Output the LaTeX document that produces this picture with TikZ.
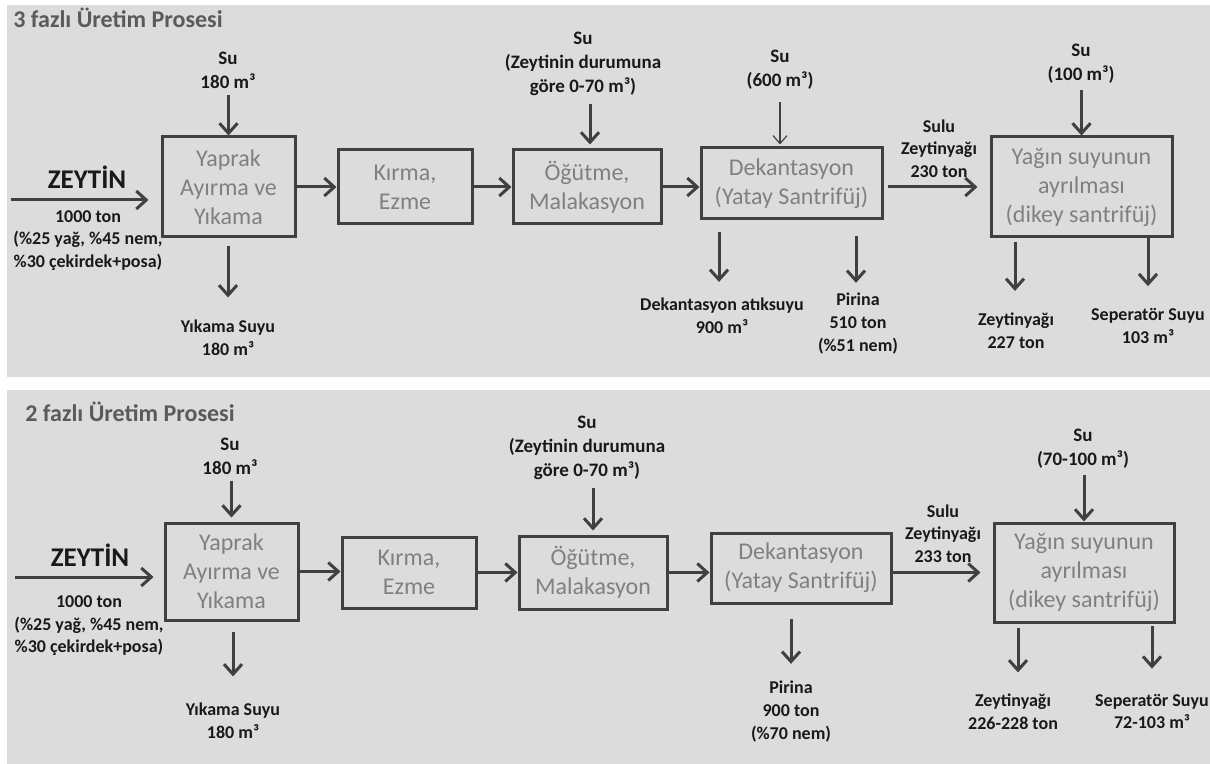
\documentclass[tikz,border=0pt]{standalone}
\usepackage{fontspec}
\setmainfont{Carlito}
\usepackage{tikz}
\usetikzlibrary{arrows.meta}
\definecolor{panelgray}{HTML}{DCDCDC}
\definecolor{boxtext}{HTML}{808080}
\definecolor{linegray}{HTML}{404040}
\definecolor{titlegray}{HTML}{5A5A5A}

\begin{document}
\begin{tikzpicture}[x=0.5pt, y=-0.5pt]
    \tikzstyle{proc}=[draw=linegray, line width=1.5pt, inner sep=0pt, align=center, text=boxtext, font=\fontsize{12}{14.5}\selectfont]
    \tikzstyle{lbl}=[align=center, inner sep=0pt, text=black!90, font=\fontsize{9}{11.3}\selectfont\bfseries]
    \tikzstyle{sulbl}=[lbl, font=\fontsize{9.5}{12}\selectfont\bfseries]
    \tikzstyle{flow}=[draw=linegray, line width=1.5pt, -{Straight Barb[length=5pt,width=9pt]}]
    \tikzstyle{thinflow}=[draw=linegray, line width=0.6pt, -{Straight Barb[length=4pt,width=7pt]}]
    \tikzstyle{title}=[anchor=west, inner sep=0pt, text=titlegray, font=\fontsize{12}{14}\selectfont\bfseries]
    \tikzstyle{olive}=[inner sep=0pt, text=black!90, font=\fontsize{13.5}{16}\selectfont\bfseries]
    \useasboundingbox (0,0) rectangle (1210,764);
    \fill[panelgray] (7,5) rectangle (1210,377);
    \fill[panelgray] (7,390) rectangle (1210,764);

    \node[title] (t1) at (13,18) {3 fazlı Üretim Prosesi};
    \node[proc, minimum width=66.5pt, minimum height=50pt] (b1) at (228.5,187) {Yaprak\\Ayırma ve\\Yıkama};
    \node[proc, minimum width=67pt, minimum height=37pt] (b2) at (405,187) {Kırma,\\Ezme};
    \node[proc, minimum width=74pt, minimum height=37pt] (b3) at (587,187) {Öğütme,\\Malakasyon};
    \node[proc, minimum width=90.5pt, minimum height=35.5pt] (b4) at (791.5,183.5) {Dekantasyon\\(Yatay Santrifüj)};
    \node[proc, minimum width=90.5pt, minimum height=50pt] (b5) at (1081.5,187) {Yağın suyunun\\ayrılması\\(dikey santrifüj)};
    \node[olive] (zeytin1) at (87,177) {ZEYTİN};
    \node[lbl] (in1) at (88,240.5) {1000 ton\\(\%25 yağ, \%45 nem,\\\%30 çekirdek+posa)};
    \node[sulbl] (su1) at (228,70) {Su\\180 m³};
    \node[sulbl] (su3) at (583,64) {Su\\(Zeytinin durumuna\\göre 0-70 m³)};
    \node[sulbl] (su4) at (780,69.5) {Su\\(600 m³)};
    \node[sulbl] (su5) at (1081,64) {Su\\(100 m³)};
    \node[lbl] (wash1) at (228,337.5) {Yıkama Suyu\\180 m³};
    \node[lbl] (dek1) at (722,316) {Dekantasyon atıksuyu\\900 m³};
    \node[lbl] (pir1) at (858,323.5) {Pirina\\510 ton\\(\%51 nem)};
    \node[lbl] (sulu1) at (939,148.5) {Sulu\\Zeytinyağı\\230 ton};
    \node[lbl] (oil1) at (1016,331) {Zeytinyağı\\227 ton};
    \node[lbl] (sep1) at (1148,326) {Seperatör Suyu\\103 m³};
    \coordinate (z1) at (11,200);

    \draw[flow, shorten >=6pt] (z1) -- (z1 -| b1.west);
    \draw[flow] (b1.east) -- (b1.east -| b2.west);
    \draw[flow] (b2.east) -- (b2.east -| b3.west);
    \draw[flow] (b3.east) -- (b3.east -| b4.west);
    \draw[flow, shorten <=2pt, shorten >=6pt] (b4.east |- b5) -- (b5.west);
    \draw[flow, shorten <=3pt] (b1.north |- su1.south) -- (b1.north);
    \draw[flow, shorten <=4pt, shorten >=2pt] ([xshift=1.5pt]b3.north |- su3.south) -- ([xshift=1.5pt]b3.north);
    \draw[thinflow, shorten <=6pt, shorten >=1pt] (su4.south) -- (su4.south |- b4.north);
    \draw[flow, shorten <=3pt] (b5.north |- su5.south) -- (b5.north);
    \draw[flow, shorten <=4pt, shorten >=11pt] (wash1 |- b1.south) -- (wash1);
    \draw[flow, shorten <=6pt, shorten >=8pt] ([xshift=-1.5pt]dek1.north |- b4.south) -- ([xshift=-1.5pt]dek1.north);
    \draw[flow, shorten <=8pt, shorten >=5pt] ([xshift=-1pt]pir1.north |- b4.south) -- ([xshift=-1pt]pir1.north);
    \draw[flow, shorten <=2pt, shorten >=11pt] ([xshift=-0.5pt]oil1.north |- b5.south) -- ([xshift=-0.5pt]oil1.north);
    \draw[flow, shorten >=11pt] (sep1.north |- b5.south) -- (sep1.north);

    \node[title] (t2) at (25,412) {2 fazlı Üretim Prosesi};
    \node[proc, minimum width=66.5pt, minimum height=48.5pt] (c1) at (231.5,571.5) {Yaprak\\Ayırma ve\\Yıkama};
    \node[proc, minimum width=67pt, minimum height=35.5pt] (c2) at (409,572.5) {Kırma,\\Ezme};
    \node[proc, minimum width=74pt, minimum height=36.5pt] (c3) at (593,572.5) {Öğütme,\\Malakasyon};
    \node[proc, minimum width=90pt, minimum height=35pt] (c4) at (801,568) {Dekantasyon\\(Yatay Santrifüj)};
    \node[proc, minimum width=90pt, minimum height=49.5pt] (c5) at (1084,572.5) {Yağın suyunun\\ayrılması\\(dikey santrifüj)};
    \node[olive] (zeytin2) at (90,555) {ZEYTİN};
    \node[lbl] (in2) at (89,626) {1000 ton\\(\%25 yağ, \%45 nem,\\\%30 çekirdek+posa)};
    \node[sulbl] (su1b) at (230,456.5) {Su\\180 m³};
    \node[sulbl] (su3b) at (587,447.5) {Su\\(Zeytinin durumuna\\göre 0-70 m³)};
    \node[sulbl] (su5b) at (1083,448.5) {Su\\(70-100 m³)};
    \node[lbl] (wash2) at (233,720.5) {Yıkama Suyu\\180 m³};
    \node[lbl] (pir2) at (791,711.5) {Pirina\\900 ton\\(\%70 nem)};
    \node[lbl] (sulu2) at (943,533.5) {Sulu\\Zeytinyağı\\233 ton};
    \node[lbl] (oil2) at (1013,711.5) {Zeytinyağı\\226-228 ton};
    \node[lbl] (sep2) at (1152,711.5) {Seperatör Suyu\\72-103 m³};
    \coordinate (z2) at (15,577);

    \draw[flow, shorten >=5pt] (z2) -- (z2 -| c1.west);
    \draw[flow] (c1.east) -- (c1.east -| c2.west);
    \draw[flow] (c2.east) -- (c2.east -| c3.west);
    \draw[flow] (c3.east) -- (c3.east -| c4.west);
    \draw[flow, shorten >=6pt] (c4.east |- c5) -- (c5.west);
    \draw[flow, shorten <=3pt, shorten >=2pt] (c1.north |- su1b.south) -- (c1.north);
    \draw[flow, shorten <=4pt, shorten >=2pt] (c3.north |- su3b.south) -- (c3.north);
    \draw[flow, shorten <=3pt] (c5.north |- su5b.south) -- (c5.north);
    \draw[flow, shorten <=5pt, shorten >=13pt] (wash2 |- c1.south) -- (wash2);
    \draw[flow, shorten <=7pt, shorten >=8.5pt] (pir2.north |- c4.south) -- (pir2.north);
    \draw[flow, shorten <=2pt, shorten >=10.5pt] ([xshift=2.5pt]oil2.north |- c5.south) -- ([xshift=2.5pt]oil2.north);
    \draw[flow, shorten <=1pt, shorten >=12.5pt] (sep2.north |- c5.south) -- (sep2.north);
\end{tikzpicture}
\end{document}
